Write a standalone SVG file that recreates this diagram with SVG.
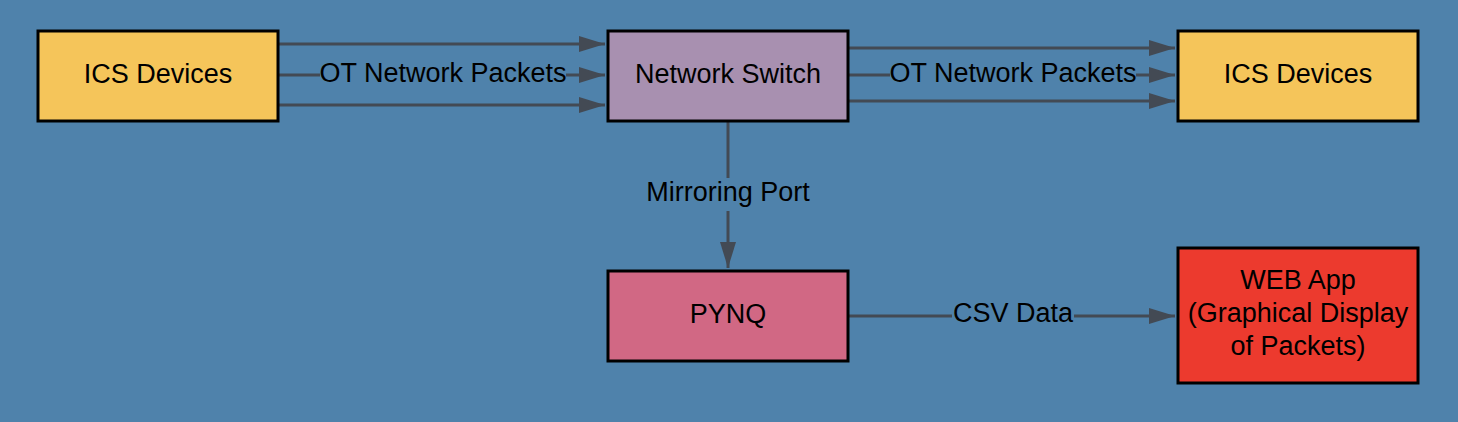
<svg xmlns="http://www.w3.org/2000/svg" width="1458" height="422" viewBox="0 0 1458 422">
<style>
.node{stroke:#000;stroke-width:3}
.t{font-family:"Liberation Sans",Arial,sans-serif;font-size:27px;fill:#000;text-anchor:middle}
.e{stroke:#434a54;stroke-width:3;fill:none}
.lb{fill:#4f82ab}
</style>
<defs>
<marker id="ah" markerUnits="userSpaceOnUse" markerWidth="28" markerHeight="18" refX="26" refY="8" orient="auto">
<path d="M0,0 L26,8 L0,16 z" fill="#434a54"/>
</marker>
</defs>
<rect width="1458" height="422" fill="#4f82ab"/>
<g id="connectors">
<line class="e" x1="278" y1="44" x2="605" y2="44" marker-end="url(#ah)"/>
<line class="e" x1="278" y1="75" x2="605" y2="75" marker-end="url(#ah)"/>
<line class="e" x1="278" y1="105" x2="605" y2="105" marker-end="url(#ah)"/>
<rect class="lb" x="320" y="62" width="246" height="26"/>
<text class="t" x="443" y="82">OT Network Packets</text>
<line class="e" x1="848" y1="48" x2="1175" y2="48" marker-end="url(#ah)"/>
<line class="e" x1="848" y1="75" x2="1175" y2="75" marker-end="url(#ah)"/>
<line class="e" x1="848" y1="101" x2="1175" y2="101" marker-end="url(#ah)"/>
<rect class="lb" x="890" y="62" width="246" height="26"/>
<text class="t" x="1013" y="82">OT Network Packets</text>
<line class="e" x1="728" y1="121" x2="728" y2="268" marker-end="url(#ah)"/>
<rect class="lb" x="646" y="178" width="165" height="33"/>
<text class="t" x="728" y="201">Mirroring Port</text>
<line class="e" x1="848" y1="316" x2="1175" y2="316" marker-end="url(#ah)"/>
<rect class="lb" x="952" y="302" width="122" height="26"/>
<text class="t" x="1013" y="322">CSV Data</text>
</g>
<g id="ics-left">
<rect class="node" x="38" y="31" width="240" height="90" fill="#f5c55a"/>
<text class="t" x="158" y="83">ICS Devices</text>
</g>
<g id="network-switch">
<rect class="node" x="608" y="31" width="240" height="90" fill="#a890b0"/>
<text class="t" x="728" y="83">Network Switch</text>
</g>
<g id="ics-right">
<rect class="node" x="1178" y="31" width="240" height="90" fill="#f5c55a"/>
<text class="t" x="1298" y="83">ICS Devices</text>
</g>
<g id="pynq">
<rect class="node" x="608" y="271" width="240" height="90" fill="#d16884"/>
<text class="t" x="728" y="323">PYNQ</text>
</g>
<g id="web-app">
<rect class="node" x="1178" y="248" width="240" height="135" fill="#ec3a2e"/>
<text class="t" x="1298" y="289">WEB App</text>
<text class="t" x="1298" y="322">(Graphical Display</text>
<text class="t" x="1298" y="355">of Packets)</text>
</g>
</svg>
